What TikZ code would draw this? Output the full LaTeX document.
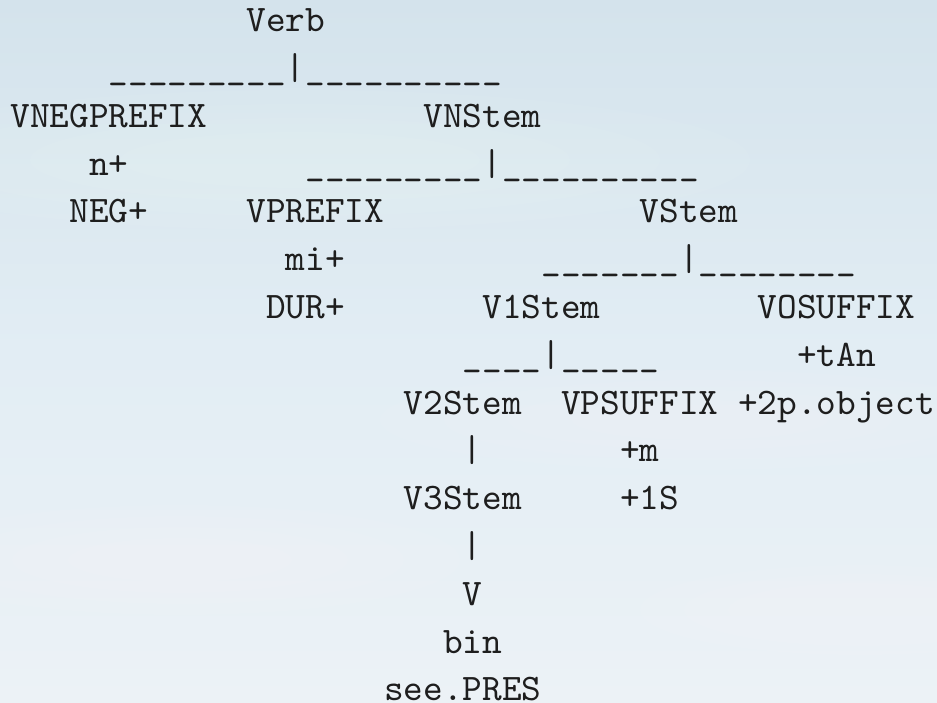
\documentclass[tikz,border=0pt]{standalone}
\usepackage{fontspec}
\definecolor{skytop}{RGB}{212,227,236}
\definecolor{skymid}{RGB}{226,237,244}
\definecolor{skybot}{RGB}{236,242,246}
\definecolor{ink}{RGB}{30,30,30}
\tikzset{
  tok/.style={anchor=base west, inner sep=0pt, outer sep=0pt, text=ink,
    font=\fontsize{10}{12}\selectfont\ttfamily},
  cloudpuff/.style={fill=white, opacity=0.05},
}
% column / line to px
\newcommand\cx[1]{{10.5+#1*19.67}}
\newcommand\ly[1]{{31.7+(#1-1)*47.8}}
\newcommand\softcloud[4]{%
  \foreach \k in {1.0,0.8,0.6,0.4}{%
    \fill[cloudpuff] (#1,#2) ellipse [x radius=\k*#3, y radius=\k*#4];}}
\begin{document}
\begin{tikzpicture}[x=0.2669pt,y=-0.2669pt]
\useasboundingbox (0,0) rectangle (937,703);
% sky background
\shade[top color=skytop, bottom color=skybot, middle color=skymid] (0,0) rectangle (937,703);
\softcloud{300}{160}{450}{70}
\softcloud{700}{420}{320}{50}
\softcloud{180}{560}{280}{55}
\softcloud{860}{610}{220}{45}
% line 1
\node[tok] (verb) at (\cx{12},\ly{1}) {Verb};
% line 2
\node[tok] (br1) at (\cx{5},\ly{2}) {\_\_\_\_\_\_\_\_\_|\_\_\_\_\_\_\_\_\_\_};
% line 3
\node[tok] (vneg) at (\cx{0},\ly{3}) {VNEGPREFIX};
\node[tok] (vnstem) at (\cx{21},\ly{3}) {VNStem};
% line 4
\node[tok] (nplus) at (\cx{4},\ly{4}) {n+};
\node[tok] (br2) at (\cx{15},\ly{4}) {\_\_\_\_\_\_\_\_\_|\_\_\_\_\_\_\_\_\_\_};
% line 5
\node[tok] (negplus) at (\cx{3},\ly{5}) {NEG+};
\node[tok] (vprefix) at (\cx{12},\ly{5}) {VPREFIX};
\node[tok] (vstem) at (\cx{32},\ly{5}) {VStem};
% line 6
\node[tok] (miplus) at (\cx{14},\ly{6}) {mi+};
\node[tok] (br3) at (\cx{27},\ly{6}) {\_\_\_\_\_\_\_|\_\_\_\_\_\_\_\_};
% line 7
\node[tok] (durplus) at (\cx{13},\ly{7}) {DUR+};
\node[tok] (v1stem) at (\cx{24},\ly{7}) {V1Stem};
\node[tok] (vosuffix) at (\cx{38},\ly{7}) {VOSUFFIX};
% line 8
\node[tok] (br4) at (\cx{23},\ly{8}) {\_\_\_\_|\_\_\_\_\_};
\node[tok] (tan) at (\cx{40},\ly{8}) {+tAn};
% line 9
\node[tok] (v2stem) at (\cx{20},\ly{9}) {V2Stem};
\node[tok] (vpsuffix) at (\cx{28},\ly{9}) {VPSUFFIX};
\node[tok] (obj) at (\cx{37},\ly{9}) {+2p.object};
% line 10
\node[tok] (bar1) at (\cx{23},\ly{10}) {|};
\node[tok] (mplus) at (\cx{31},\ly{10}) {+m};
% line 11
\node[tok] (v3stem) at (\cx{20},\ly{11}) {V3Stem};
\node[tok] (ones) at (\cx{31},\ly{11}) {+1S};
% line 12
\node[tok] (bar2) at (\cx{23},\ly{12}) {|};
% line 13
\node[tok] (vleaf) at (\cx{23},\ly{13}) {V};
% line 14
\node[tok] (bin) at (\cx{22},\ly{14}) {bin};
% line 15
\node[tok] (seepres) at (\cx{19},\ly{15}) {see.PRES};
\end{tikzpicture}
\end{document}
